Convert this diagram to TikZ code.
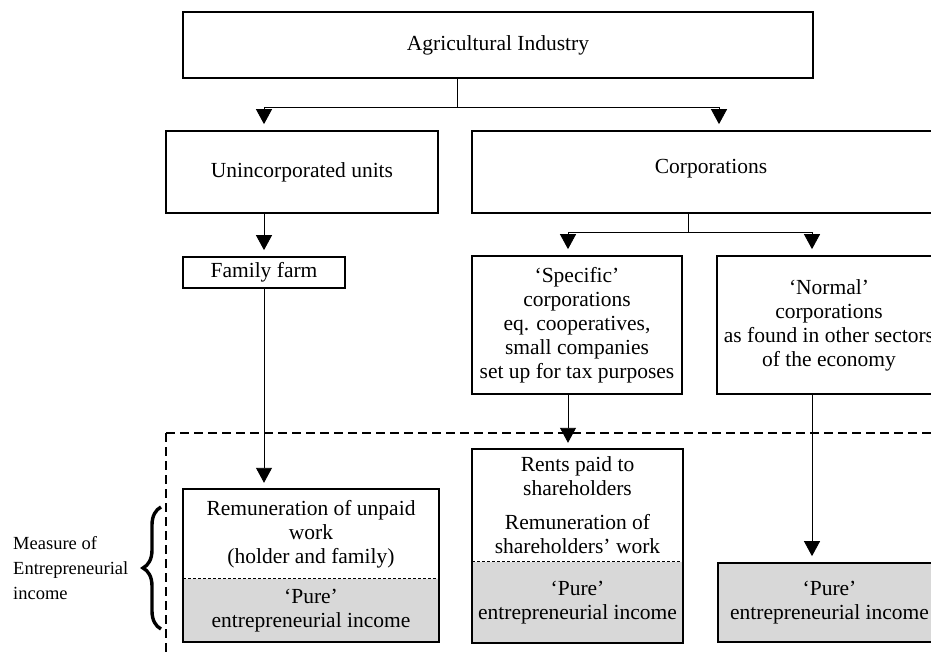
\documentclass[tikz,border=0pt]{standalone}
\usepackage{fontspec}
\setmainfont{Liberation Serif}
\usetikzlibrary{arrows.meta,decorations.pathreplacing}
\definecolor{boxgray}{RGB}{216,216,216}
\begin{document}
\begin{tikzpicture}[x=1pt,y=-1pt,
  mainfont/.style={font=\fontsize{21.5}{24}\selectfont},
  box/.style={draw,line width=1.7pt,inner sep=0pt,align=center,mainfont},
  txt/.style={inner sep=0pt,align=center,mainfont},
  graybox/.style={fill=boxgray,inner sep=0pt,align=center,mainfont},
  frameline/.style={line width=1.7pt},
  conn/.style={line width=0.9pt},
  arr/.style={line width=0.9pt,-{Triangle[width=16pt,length=15pt]},shorten >=6pt},
  dashframe/.style={line width=2.2pt,dash pattern=on 9pt off 5pt},
  sepline/.style={line width=0.9pt,dash pattern=on 3pt off 2pt},
]
\useasboundingbox (0,0) rectangle (931,652);
\clip (0,0) rectangle (931,652);

% upper boxes
\node[box,minimum width=630pt,minimum height=66pt] (ind) at (498,45) {Agricultural Industry};
\node[box,minimum width=272pt,minimum height=82pt] (uninc) at (302,172) {Unincorporated units};
\node[box,minimum width=478pt,minimum height=82pt,text depth=10.7pt] (corp) at (711,172) {Corporations};
\node[box,minimum width=162pt,minimum height=31pt] (famfarm) at (264,272.5) {Family farm};
\node[box,minimum width=210pt,minimum height=138pt] (spec) at (577,325) {‘Specific’\\corporations\\eq. cooperatives,\\small companies\\set up for tax purposes};
\node[box,minimum width=224pt,minimum height=138pt] (norm) at (829,325) {‘Normal’\\corporations\\as found in other sectors\\of the economy};

% lower boxes
\node[txt,minimum width=256pt,minimum height=90pt] (remtop) at (311,534) {Remuneration of unpaid\\work\\(holder and family)};
\node[graybox,minimum width=256pt,minimum height=63pt] (rembot) at (311,610.5) {‘Pure’\\entrepreneurial income};
\node[txt,minimum width=211pt,minimum height=113pt] (rentstop) at (577.5,505.5) {Rents paid to\\shareholders\\[10pt]Remuneration of\\shareholders’ work};
\node[graybox,minimum width=211pt,minimum height=81pt] (rentsbot) at (577.5,602.5) {‘Pure’\\entrepreneurial income};
\node[graybox,draw,line width=1.7pt,minimum width=223pt,minimum height=79pt] (purebox) at (829.5,602.5) {‘Pure’\\entrepreneurial income};

\draw[frameline] (remtop.north west) rectangle (rembot.south east);
\draw[sepline] (rembot.north west) -- (rembot.north east);
\draw[frameline] (rentstop.north west) rectangle (rentsbot.south east);
\draw[sepline] (rentsbot.north west) -- (rentsbot.north east);

% dashed frame
\coordinate (fc) at (166,433);
\draw[dashframe] (fc) -- (950,433);
\draw[dashframe] (fc) -- (166,660);

% connectors
\coordinate (j1) at (457,107);
\coordinate (cr) at (719,107);
\draw[conn] (ind.south -| j1) -- (j1);
\draw[arr] (j1) -| (uninc.north -| famfarm.north);
\draw[arr] (j1) -| (corp.north -| cr);

\draw[arr] (uninc.south -| famfarm.north) -- (famfarm.north);

\coordinate (j2) at (688,232);
\coordinate (sa) at (568,232);
\coordinate (na) at (812,232);
\draw[conn] (corp.south -| j2) -- (j2);
\draw[arr] (j2) -| (spec.north -| sa);
\draw[arr] (j2) -| (norm.north -| na);

\draw[arr] (famfarm.south) -- (famfarm.south |- remtop.north);
\draw[arr] (spec.south -| sa) -- (rentstop.north -| sa);
\draw[arr] (norm.south -| na) -- (purebox.north -| na);

% brace and label
\draw[line width=3.4pt,decorate,decoration={brace,amplitude=18pt}] (161,629) -- (161,507);
\node[inner sep=0pt,align=left,anchor=west,font=\fontsize{18.5}{25}\selectfont] (measure) at (13,568) {Measure of\\Entrepreneurial\\income};
\end{tikzpicture}
\end{document}
